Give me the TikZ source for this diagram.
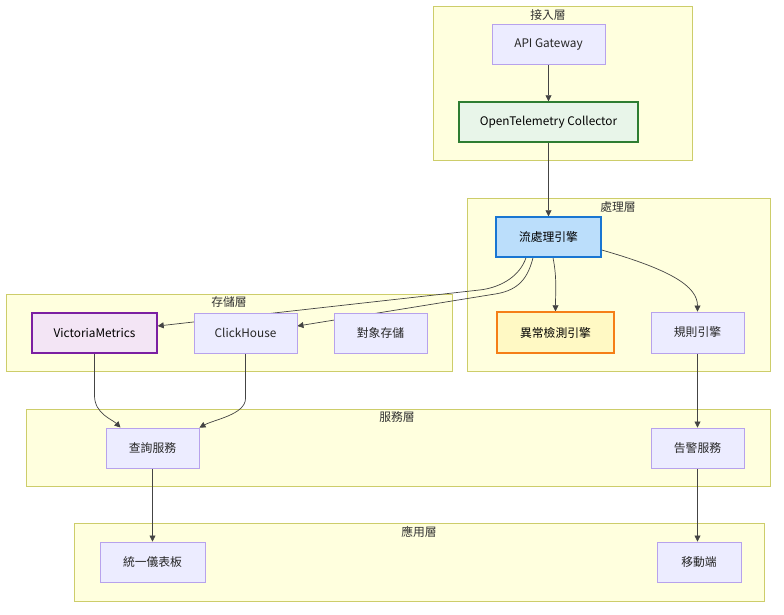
\documentclass[tikz,border=0pt]{standalone}
\usepackage{fontspec}
\setmainfont{Noto Sans CJK TC}
\usetikzlibrary{arrows.meta}
\pgfdeclarelayer{bg}
\pgfdeclarelayer{edges}
\pgfsetlayers{bg,edges,main}
\definecolor{clfill}{HTML}{FFFFDE}
\definecolor{clline}{HTML}{CDCD6A}
\definecolor{nfill}{HTML}{ECECFF}
\definecolor{nline}{HTML}{B7A2EC}
\definecolor{edgec}{HTML}{444444}
\tikzset{
  cluster/.style={draw=clline, fill=clfill, line width=0.9pt},
  cltitle/.style={font=\fontsize{11.8}{13}\selectfont, text=black!80, inner sep=0pt},
  box/.style={draw=nline, fill=nfill, line width=0.9pt, inner sep=0pt, font=\fontsize{11.8}{14}\selectfont, text=black!85},
  greenbox/.style={box, draw={rgb,255:red,46;green,125;blue,50}, fill={rgb,255:red,232;green,245;blue,233}, line width=1.4pt, text=black},
  bluebox/.style={box, draw={rgb,255:red,25;green,118;blue,210}, fill={rgb,255:red,187;green,222;blue,251}, line width=1.4pt, text=black},
  orangebox/.style={box, draw={rgb,255:red,245;green,127;blue,23}, fill={rgb,255:red,255;green,249;blue,196}, line width=1.4pt, text=black},
  purplebox/.style={box, draw={rgb,255:red,123;green,31;blue,162}, fill={rgb,255:red,243;green,229;blue,245}, line width=1.4pt, text=black},
  arr/.style={draw=edgec, line width=0.7pt, -{Triangle[length=6pt,width=6pt]}},
}
\begin{document}
\begin{tikzpicture}[x=1pt,y=-1pt]
\useasboundingbox (0,0) rectangle (784,614);
% clusters
\begin{pgfonlayer}{bg}
\draw[cluster] (433,6) rectangle (692,160);
\draw[cluster] (467,198) rectangle (770,371);
\draw[cluster] (6,294) rectangle (452,371);
\draw[cluster] (26,409) rectangle (770,486);
\draw[cluster] (74,523) rectangle (764,601);
\end{pgfonlayer}
\node[cltitle] (t1) at (548,15) {接入層};
\node[cltitle] (t2) at (618,207) {處理層};
\node[cltitle] (t3) at (229,302) {存儲層};
\node[cltitle] (t4) at (397,417) {服務層};
\node[cltitle] (t5) at (419,532) {應用層};
% nodes
\node[box, minimum width=113pt, minimum height=40pt] (api) at (548.5,44) {API Gateway};
\node[greenbox, minimum width=179pt, minimum height=40pt] (otel) at (548.5,122) {OpenTelemetry Collector};
\node[bluebox, minimum width=105pt, minimum height=40pt] (stream) at (548.5,237) {流處理引擎};
\node[orangebox, minimum width=117pt, minimum height=41pt] (anom) at (555.5,332.5) {異常檢測引擎};
\node[box, minimum width=93pt, minimum height=41pt] (rule) at (697.5,332.5) {規則引擎};
\node[purplebox, minimum width=125pt, minimum height=40pt] (vm) at (94.5,333) {VictoriaMetrics};
\node[box, minimum width=103pt, minimum height=40pt] (ch) at (245.5,333) {ClickHouse};
\node[box, minimum width=93pt, minimum height=40pt] (obj) at (380.5,333) {對象存儲};
\node[box, minimum width=93pt, minimum height=40pt] (query) at (152.5,448) {查詢服務};
\node[box, minimum width=93pt, minimum height=40pt] (alert) at (697.5,448) {告警服務};
\node[box, minimum width=105pt, minimum height=40pt] (dash) at (152.5,562) {統一儀表板};
\node[box, minimum width=84pt, minimum height=40pt] (mobile) at (699,562) {移動端};
% edges
\begin{pgfonlayer}{edges}
\draw[arr] (api) -- (otel);
\draw[arr] (otel) -- (stream);
\draw[arr] ([xshift=-22.5pt]stream.south) .. controls +(-6,18) and +(20,-3) .. ++(-44,32) -- ([yshift=7pt]vm.east);
\draw[arr] ([xshift=-15.5pt]stream.south) .. controls +(-5,20) and +(22,-4) .. ++(-36,36) -- ([yshift=7pt]ch.east);
\draw[arr] ([xshift=4.5pt]stream.south) .. controls +(4,20) and +(0,-20) .. (anom.north);
\draw[arr] ([yshift=-13pt]stream.east) .. controls +(70,20) and +(0,-25) .. (rule.north);
\draw[arr] (rule) -- (alert);
\draw[arr] (vm.south) -- ++(0,42) .. controls +(0,18) and +(-8,-8) .. ([xshift=-32pt]query.north);
\draw[arr] (ch.south) -- ++(0,45) .. controls +(0,16) and +(15,-8) .. (query.north east);
\draw[arr] (query) -- (dash);
\draw[arr] (alert) -- (alert.south |- mobile.north);
\end{pgfonlayer}
\end{tikzpicture}
\end{document}
